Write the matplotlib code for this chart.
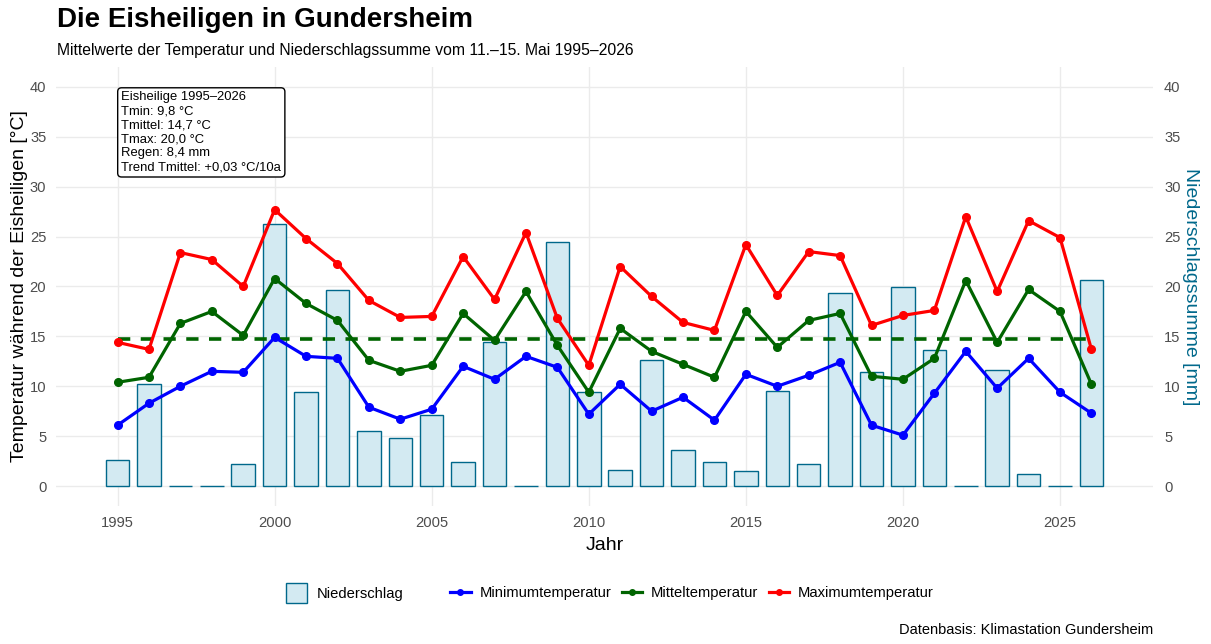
import numpy as np
import matplotlib
matplotlib.use("Agg")
import matplotlib.pyplot as plt
from matplotlib.patches import Patch
from matplotlib.lines import Line2D

plt.rcParams['font.family'] = ['Liberation Sans', 'DejaVu Sans']

# -----------------------------
# Data
# -----------------------------
jahre = list(range(1995, 2027))

niederschlag = [2.6, 10.2, 0.0, 0.0, 2.2, 26.3, 9.4, 19.6, 5.5, 4.8,
                7.1, 2.4, 14.4, 0.0, 24.5, 9.4, 1.6, 12.6, 3.6, 2.4,
                1.5, 9.5, 2.2, 19.3, 11.4, 19.9, 13.6, 0.0, 11.6, 1.2,
                0.0, 20.7]

tmin = [6.1, 8.3, 10.0, 11.5, 11.4, 14.9, 13.0, 12.8, 7.9, 6.7,
        7.7, 12.0, 10.7, 13.0, 11.9, 7.2, 10.2, 7.5, 8.9, 6.6,
        11.2, 10.0, 11.1, 12.4, 6.1, 5.1, 9.3, 13.5, 9.8, 12.8,
        9.4, 7.3]

tmittel = [10.4, 10.9, 16.3, 17.5, 15.1, 20.8, 18.3, 16.6, 12.6, 11.5,
           12.1, 17.3, 14.6, 19.5, 14.1, 9.4, 15.8, 13.5, 12.2, 10.9,
           17.5, 13.9, 16.6, 17.3, 11.0, 10.7, 12.8, 20.6, 14.4, 19.7,
           17.5, 10.2]

tmax = [14.4, 13.7, 23.4, 22.7, 20.0, 27.7, 24.8, 22.3, 18.6, 16.9,
        17.0, 23.0, 18.7, 25.4, 16.8, 12.1, 22.0, 19.0, 16.4, 15.6,
        24.2, 19.1, 23.5, 23.1, 16.1, 17.1, 17.6, 27.0, 19.5, 26.6,
        24.9, 13.7]

mittel_tmittel = 14.7

info_text = ("Eisheilige 1995\u20132026\n"
             "Tmin: 9,8 \u00b0C\n"
             "Tmittel: 14,7 \u00b0C\n"
             "Tmax: 20,0 \u00b0C\n"
             "Regen: 8,4 mm\n"
             "Trend Tmittel: +0,03 \u00b0C/10a")

# -----------------------------
# Styles
# -----------------------------
bar_fill = "#d3eaf2"
bar_edge = "#00688b"
grid_col = "#ebebeb"
tick_col = "#4d4d4d"

fig = plt.figure(figsize=(12.11, 6.44), dpi=100)
ax = fig.add_axes([56 / 1211, 1 - 506 / 644, (1153 - 56) / 1211, (506 - 67) / 644])

# bars (precipitation)
ax.bar(jahre, niederschlag, width=0.75, color=bar_fill, edgecolor=bar_edge,
       linewidth=1.0, zorder=2)

# temperature lines
ax.plot(jahre, tmin, color="blue", lw=2.3, marker="o", ms=5.5, zorder=4)
ax.plot(jahre, tmittel, color="darkgreen", lw=2.3, marker="o", ms=5.5, zorder=4)
ax.plot(jahre, tmax, color="red", lw=2.3, marker="o", ms=5.5, zorder=4)

# mean line
ax.plot([jahre[0], jahre[-1]], [mittel_tmittel, mittel_tmittel],
        color="darkgreen", lw=2.6, dashes=(3.4, 2.9), zorder=3)

ax.set_xlim(1993.04, 2027.96)
ax.set_ylim(-2, 42)
ax.set_xticks(range(1995, 2030, 5))
ax.set_yticks(range(0, 45, 5))

ax.grid(True, color=grid_col, lw=1.0, zorder=0)
ax.set_axisbelow(True)
for s in ax.spines.values():
    s.set_visible(False)
ax.tick_params(axis="both", length=0, labelsize=10.6, labelcolor=tick_col, pad=7)

ax.set_xlabel("Jahr", fontsize=14, labelpad=5)
ax.set_ylabel("Temperatur w\u00e4hrend der Eisheiligen [\u00b0C]", fontsize=14, labelpad=1.5)

# right axis (same scale)
ax2 = ax.twinx()
ax2.set_ylim(ax.get_ylim())
ax2.set_yticks(range(0, 45, 5))
for s in ax2.spines.values():
    s.set_visible(False)
ax2.tick_params(axis="y", length=0, labelsize=10.6, labelcolor=tick_col, pad=8)
ax2.set_ylabel("Niederschlagssumme [mm]", fontsize=14, color=bar_edge,
               rotation=-90, labelpad=13)

# info box
ax.text(1995.12, 39.55, info_text, ha="left", va="top", fontsize=9.4,
        linespacing=1.22, zorder=6,
        bbox=dict(boxstyle="round,pad=0.28,rounding_size=0.3",
                  facecolor="white", edgecolor="black", lw=1.0))

# titles
fig.text(57 / 1211, 1 - 20 / 644, "Die Eisheiligen in Gundersheim",
         fontsize=20, fontweight="bold", ha="left", va="center")
fig.text(57 / 1211, 1 - 50 / 644,
         "Mittelwerte der Temperatur und Niederschlagssumme vom 11.\u201315. Mai 1995\u20132026",
         fontsize=11.3, ha="left", va="center")
fig.text(1153 / 1211, 1 - 630 / 644, "Datenbasis: Klimastation Gundersheim",
         fontsize=10.5, ha="right", va="center")

# legends
fig.legend(handles=[Patch(facecolor=bar_fill, edgecolor=bar_edge, lw=1.0,
                          label="Niederschlag")],
           loc="center", bbox_to_anchor=(345 / 1211, 1 - 593 / 644),
           frameon=False, fontsize=10.6, handlelength=1.4,
           handleheight=1.8, handletextpad=0.7)
line_handles = [
    Line2D([], [], color="blue", lw=2.3, marker="o", ms=4, label="Minimumtemperatur"),
    Line2D([], [], color="darkgreen", lw=2.3, marker="o", ms=4, label="Mitteltemperatur"),
    Line2D([], [], color="red", lw=2.3, marker="o", ms=4, label="Maximumtemperatur"),
]
fig.legend(handles=line_handles, ncol=3, loc="center",
           bbox_to_anchor=(692 / 1211, 1 - 593 / 644),
           frameon=False, fontsize=10.6, handlelength=1.4,
           handletextpad=0.6, columnspacing=0.7)

fig.savefig("out.png", dpi=100)
